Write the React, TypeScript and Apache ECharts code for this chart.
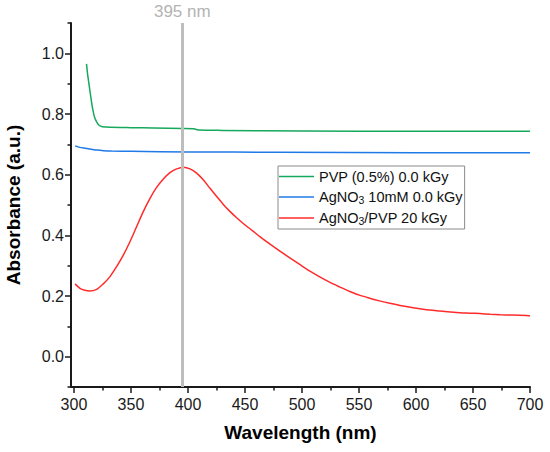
import React, { useEffect, useRef } from "react";
import * as echarts from "echarts";

// ---- data ----
const pvpX = [311, 312, 313.5, 315, 316.5, 318, 320, 322, 325, 332, 350, 370, 395, 405, 410, 430, 500, 600, 700];
const pvpY = [0.965, 0.93, 0.89, 0.85, 0.815, 0.79, 0.773, 0.763, 0.758, 0.756, 0.755, 0.754, 0.752, 0.751, 0.747, 0.746, 0.744, 0.743, 0.743];

const agX = [301, 305, 310, 315, 320, 326, 333, 350, 400, 480, 600, 700];
const agY = [0.695, 0.69, 0.687, 0.684, 0.681, 0.679, 0.678, 0.677, 0.675, 0.674, 0.672, 0.672];

const mixX = [301, 305.3, 309.5, 314, 319.9, 325.7, 331.6, 337.4, 343.3, 349.1, 355, 360.8, 366.7, 372.5, 378.4, 384.2, 390.1, 395.9, 401.8, 407.6, 413.4, 419.3, 425.2, 431, 436.8, 442.7, 448.5, 457, 463, 472, 481, 490, 498, 507, 516, 525, 533, 542, 551, 560, 568, 577, 586, 595, 603.5, 612, 621, 630, 638.6, 647, 656, 665, 674, 685, 697, 700];
const mixY = [0.24, 0.225, 0.219, 0.2166, 0.222, 0.24, 0.264, 0.297, 0.335, 0.379, 0.429, 0.478, 0.522, 0.558, 0.586, 0.607, 0.619, 0.6245, 0.619, 0.605, 0.583, 0.555, 0.528, 0.502, 0.479, 0.458, 0.439, 0.414, 0.396, 0.371, 0.347, 0.324, 0.304, 0.282, 0.262, 0.244, 0.23, 0.215, 0.202, 0.192, 0.184, 0.176, 0.169, 0.163, 0.158, 0.1535, 0.1505, 0.1475, 0.145, 0.1435, 0.142, 0.14, 0.1385, 0.137, 0.1355, 0.135];

const seriesNames = ["PVP (0.5%) 0.0 kGy", "AgNO3 10mM 0.0 kGy", "AgNO3/PVP 20 kGy"];
const seriesColors = ["#16a85c", "#1f7ae8", "#ff2b2b"];

const peakWavelength = 395;
const peakLabel = "395 nm";

const xTickLabels = [300, 350, 400, 450, 500, 550, 600, 650, 700];
const xMinorTicks = [325, 375, 425, 475, 525, 575, 625, 675];
const yTickLabels = [0.0, 0.2, 0.4, 0.6, 0.8, 1.0];
const yMinorTicks = [-0.1, 0.1, 0.3, 0.5, 0.7, 0.9, 1.1];

const xMin = 297.4;
const xMax = 700;
const yMin = -0.1;
const yMax = 1.1;

const FONT = "'Liberation Sans', Arial, Helvetica, sans-serif";

function pairs(xs: number[], ys: number[]) {
  return xs.map((x, i) => [x, ys[i]]);
}

export default function App() {
  const ref = useRef<HTMLDivElement>(null);

  useEffect(() => {
    document.body.style.margin = "0";
    const chart = echarts.init(ref.current!, null, { renderer: "svg" });

    const axisLineStyle = { color: "#1a1a1a", width: 2 };
    const tickStyle = { color: "#1a1a1a", width: 1.5 };

    const option: any = {
      animation: false,
      backgroundColor: "#ffffff",
      textStyle: { fontFamily: FONT },
      grid: { left: 71, right: 20, top: 23, bottom: 65, containLabel: false, outerBoundsMode: "none" },
      legend: {
        data: seriesNames,
        orient: "vertical",
        left: 278,
        top: 166,
        backgroundColor: "#ffffff",
        borderColor: "#8a8a8a",
        borderWidth: 1,
        borderRadius: 0,
        padding: [3, 2, 3, 1],
        icon: "rect",
        itemWidth: 35,
        itemHeight: 1.5,
        itemGap: 5.5,
        selectedMode: false,
        formatter: (name: string) => {
          if (name.indexOf("AgNO3") >= 0) {
            return "{t|AgNO}{s|3}{t|" + name.replace("AgNO3", "") + "}";
          }
          return "{t|" + name + "}";
        },
        textStyle: {
          fontFamily: FONT,
          color: "#111",
          rich: {
            t: { fontFamily: FONT, fontSize: 14.5, lineHeight: 16, color: "#111" },
            s: { fontFamily: FONT, fontSize: 10.5, lineHeight: 10, verticalAlign: "bottom", color: "#111" },
          },
        },
      },
      xAxis: [
        {
          type: "value",
          position: "bottom",
          min: xMin,
          max: xMax,
          name: "Wavelength (nm)",
          nameLocation: "middle",
          nameGap: 36,
          nameTextStyle: { fontFamily: FONT, fontSize: 19, fontWeight: "bold", color: "#000" },
          axisLine: { show: true, onZero: false, lineStyle: axisLineStyle },
          axisTick: { show: true, length: 6, lineStyle: tickStyle, customValues: xTickLabels },
          axisLabel: {
            show: true,
            customValues: xTickLabels,
            fontFamily: FONT,
            fontSize: 16,
            color: "#1a1a1a",
            margin: 9,
          },
          splitLine: { show: false },
        },
        {
          type: "value",
          position: "bottom",
          min: xMin,
          max: xMax,
          axisLine: { show: false, onZero: false },
          axisTick: { show: true, length: 3.5, lineStyle: tickStyle, customValues: xMinorTicks },
          axisLabel: { show: false },
          splitLine: { show: false },
        },
      ],
      yAxis: [
        {
          type: "value",
          position: "left",
          min: yMin,
          max: yMax,
          name: "Absorbance (a.u.)",
          nameLocation: "middle",
          nameGap: 48,
          nameTextStyle: { fontFamily: FONT, fontSize: 19, fontWeight: "bold", color: "#000" },
          axisLine: { show: true, onZero: false, lineStyle: axisLineStyle },
          axisTick: { show: true, length: 6, lineStyle: tickStyle, customValues: yTickLabels },
          axisLabel: {
            show: true,
            customValues: yTickLabels,
            formatter: (v: number) => v.toFixed(1),
            fontFamily: FONT,
            fontSize: 16,
            color: "#1a1a1a",
            margin: 7,
          },
          splitLine: { show: false },
        },
        {
          type: "value",
          position: "left",
          min: yMin,
          max: yMax,
          axisLine: { show: false, onZero: false },
          axisTick: { show: true, length: 3.5, lineStyle: tickStyle, customValues: yMinorTicks },
          axisLabel: { show: false },
          splitLine: { show: false },
        },
      ],
      series: [
        {
          name: "__peak",
          type: "line",
          data: [],
          z: 1,
          silent: true,
          markLine: {
            silent: true,
            symbol: ["none", "none"],
            lineStyle: { color: "#bdbdbd", width: 3, type: "solid" },
            label: {
              show: true,
              position: "end",
              formatter: peakLabel,
              color: "#b3b3b3",
              fontFamily: FONT,
              fontSize: 17,
              distance: 3,
            },
            emphasis: { disabled: true },
            data: [{ xAxis: peakWavelength }],
          },
        },
        {
          name: seriesNames[0],
          type: "line",
          data: pairs(pvpX, pvpY),
          symbol: "none",
          smooth: 0.2,
          z: 3,
          lineStyle: { color: seriesColors[0], width: 1.5 },
          itemStyle: { color: seriesColors[0] },
        },
        {
          name: seriesNames[1],
          type: "line",
          data: pairs(agX, agY),
          symbol: "none",
          smooth: 0.2,
          z: 3,
          lineStyle: { color: seriesColors[1], width: 1.5 },
          itemStyle: { color: seriesColors[1] },
        },
        {
          name: seriesNames[2],
          type: "line",
          data: pairs(mixX, mixY),
          symbol: "none",
          smooth: 0.3,
          z: 3,
          lineStyle: { color: seriesColors[2], width: 1.5 },
          itemStyle: { color: seriesColors[2] },
        },
      ],
    };

    chart.setOption(option);
    return () => chart.dispose();
  }, []);

  return <div ref={ref} style={{ width: 550, height: 452 }} />;
}
